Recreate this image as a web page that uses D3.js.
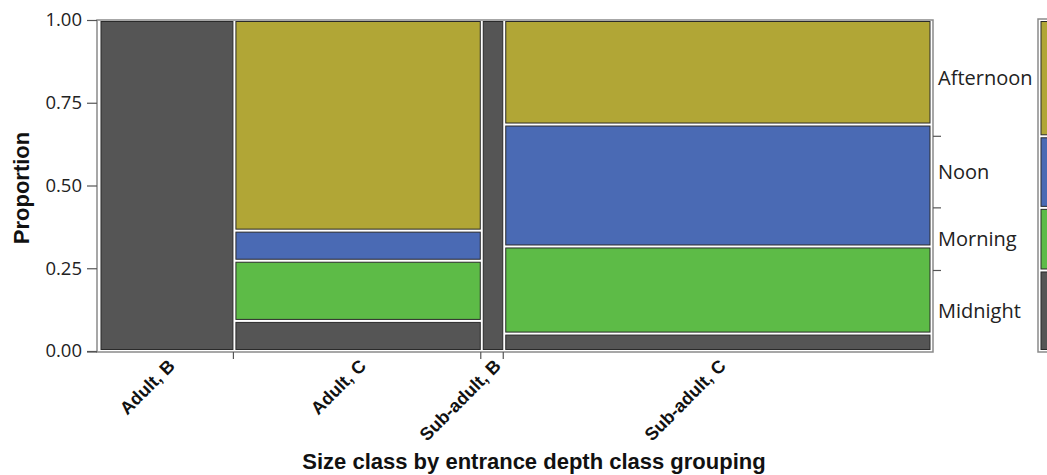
<!DOCTYPE html>
<html>
<head>
<meta charset="utf-8">
<script src="https://cdn.jsdelivr.net/npm/d3@7/dist/d3.min.js"></script>
<style>
  html, body { margin: 0; padding: 0; background: #fff; }
  svg { display: block; }
</style>
</head>
<body>
<svg id="chart" width="1047" height="475"></svg>
<script>
// ---- data (counts read from the mosaic) ----
const categories = ["Adult, B", "Adult, C", "Sub-adult, B", "Sub-adult, C"];
const series = ["Midnight", "Morning", "Noon", "Afternoon"];
const midnight  = [6, 1, 1, 1];
const morning   = [0, 2, 0, 5];
const noon      = [0, 1, 0, 7];
const afternoon = [0, 7, 0, 6];
const yTickValues = [0, 0.25, 0.5, 0.75, 1];
const yTickLabels = ["0.00", "0.25", "0.50", "0.75", "1.00"];

const colors = { Midnight: "#555555", Morning: "#5DBB47", Noon: "#4A6AB4", Afternoon: "#B1A636" };
const valueSets = { Midnight: midnight, Morning: morning, Noon: noon, Afternoon: afternoon };

const svg = d3.select("#chart");
const frame = { left: 97, right: 933, top: 20, bottom: 352 };
const gap = 3;

const colTotals = categories.map((c, i) => d3.sum(series, s => valueSets[s][i]));
const grand = d3.sum(colTotals);
const colStarts = d3.cumsum([0, ...colTotals]);

const x = d3.scaleLinear().domain([0, grand]).range([frame.left + 4, frame.right - 2 + gap - 1]);
const y = d3.scaleLinear().domain([0, 1]).range([frame.bottom - 1, frame.top]);

// frame
svg.append("rect")
  .attr("x", frame.left).attr("y", frame.top)
  .attr("width", frame.right - frame.left).attr("height", frame.bottom - frame.top)
  .attr("fill", "none").attr("stroke", "#8a8a8a").attr("stroke-width", 1.5);

// tiles
const tiles = [];
categories.forEach((c, i) => {
  let cum = 0;
  series.forEach(s => {
    const v = valueSets[s][i];
    if (v > 0) {
      tiles.push({ cat: c, s, i, p0: cum / colTotals[i], p1: (cum + v) / colTotals[i] });
    }
    cum += v;
  });
});

svg.append("g").selectAll("rect").data(tiles).join("rect")
  .attr("x", d => x(colStarts[d.i]))
  .attr("width", d => x(colStarts[d.i + 1]) - gap - x(colStarts[d.i]))
  .attr("y", d => y(d.p1) + 1.5)
  .attr("height", d => y(d.p0) - y(d.p1) - 3)
  .attr("fill", d => colors[d.s])
  .attr("stroke", "#2a2a2a").attr("stroke-width", 1);

// y axis
const yAxis = d3.axisLeft(y).tickValues(yTickValues)
  .tickFormat((d, i) => yTickLabels[i]).tickSize(10).tickPadding(5);
const gy = svg.append("g").attr("transform", `translate(${frame.left},0)`).call(yAxis);
gy.select(".domain").remove();
gy.selectAll(".tick line").attr("stroke", "#555").attr("stroke-width", 1.2);
gy.selectAll(".tick text").attr("font-family", "'Open Sans', sans-serif")
  .attr("font-size", 18.5).attr("fill", "#222");

// x axis ticks at column boundaries
const boundaries = colStarts.slice(1, -1);
const gx = svg.append("g").attr("transform", `translate(0,${frame.bottom})`);
gx.selectAll("line").data(boundaries).join("line")
  .attr("x1", d => x(d) - gap + 0.5).attr("x2", d => x(d) - gap + 0.5)
  .attr("y1", 0).attr("y2", 7)
  .attr("stroke", "#555").attr("stroke-width", 1.2);
gx.append("line").attr("x1", frame.left - 10).attr("x2", frame.left).attr("y1", 0).attr("y2", 0)
  .attr("stroke", "#555").attr("stroke-width", 1.2);

// x category labels (rotated)
svg.append("g").selectAll("text").data(categories).join("text")
  .attr("transform", (d, i) => {
    const cx = (x(colStarts[i]) + x(colStarts[i + 1]) - gap) / 2 + 9;
    return `translate(${cx},367) rotate(-45)`;
  })
  .attr("text-anchor", "end")
  .attr("font-family", "'Liberation Sans', Arial, sans-serif")
  .attr("font-weight", "bold").attr("font-size", 18).attr("fill", "#111")
  .text(d => d);

// right-side marginal axis
const seriesTotals = series.map(s => d3.sum(valueSets[s]));
const sCum = d3.cumsum([0, ...seriesTotals]).map(v => v / grand);
const rightTicks = sCum.slice(1, -1);
svg.append("g").selectAll("line").data(rightTicks).join("line")
  .attr("x1", frame.right).attr("x2", frame.right + 8)
  .attr("y1", d => y(d)).attr("y2", d => y(d))
  .attr("stroke", "#555").attr("stroke-width", 1.2);
svg.append("g").selectAll("text").data(series).join("text")
  .attr("x", frame.right + 5)
  .attr("y", (d, i) => y((sCum[i] + sCum[i + 1]) / 2))
  .attr("dy", "0.35em")
  .attr("font-family", "'Open Sans', sans-serif").attr("font-size", 20).attr("fill", "#222")
  .text(d => d);

// far-right marginal strip (cut off by the page edge)
const stripX = 1038;
svg.append("rect").attr("x", stripX).attr("y", frame.top - 1)
  .attr("width", 40).attr("height", frame.bottom - frame.top + 1)
  .attr("fill", "none").attr("stroke", "#8a8a8a").attr("stroke-width", 1.5);
svg.append("g").selectAll("rect").data(series).join("rect")
  .attr("x", stripX + 3).attr("width", 40)
  .attr("y", (d, i) => y(sCum[i + 1]) + 1.5)
  .attr("height", (d, i) => y(sCum[i]) - y(sCum[i + 1]) - 3)
  .attr("fill", d => colors[d]).attr("stroke", "#2a2a2a").attr("stroke-width", 1);

// titles
svg.append("text")
  .attr("transform", `translate(29,${(frame.top + frame.bottom) / 2 + 2}) rotate(-90)`)
  .attr("text-anchor", "middle")
  .attr("font-family", "'Liberation Sans', Arial, sans-serif")
  .attr("font-weight", "bold").attr("font-size", 22).attr("fill", "#111")
  .text("Proportion");
svg.append("text")
  .attr("x", 534).attr("y", 469)
  .attr("text-anchor", "middle")
  .attr("font-family", "'Liberation Sans', Arial, sans-serif")
  .attr("font-weight", "bold").attr("font-size", 22).attr("fill", "#111")
  .text("Size class by entrance depth class grouping");
</script>
</body>
</html>
